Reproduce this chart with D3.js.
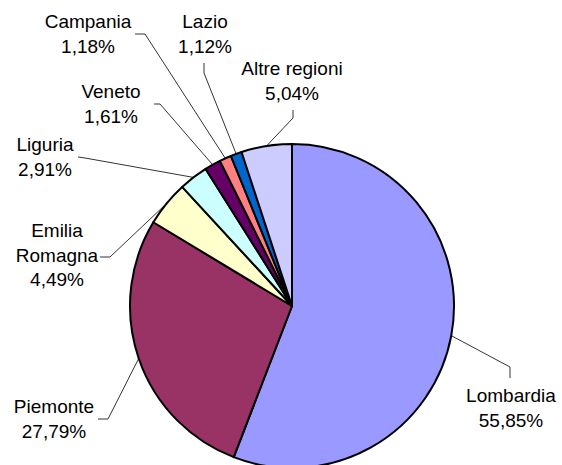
<!DOCTYPE html>
<html>
<head>
<meta charset="utf-8">
<script src="https://cdn.jsdelivr.net/npm/d3@7"></script>
<style>
  body { margin: 0; background: #fff; }
  svg { display: block; }
  text { font-family: "Liberation Sans", Arial, sans-serif; font-size: 19px; fill: #000; }
</style>
</head>
<body>
<svg id="chart"></svg>
<script>
// data
var regions = ['Lombardia', 'Piemonte', 'Emilia Romagna', 'Liguria', 'Veneto', 'Campania', 'Lazio', 'Altre regioni'];
var shares = [55.85, 27.79, 4.49, 2.91, 1.61, 1.18, 1.12, 5.04];
var colors = ['#9999ff', '#993366', '#ffffcc', '#ccffff', '#660066', '#ff8080', '#0066cc', '#ccccff'];

// label placement: lines of the name, centre x, first baseline, elbow of the leader, where the leader meets the text
var labelLayout = [
  { lines: ['Lombardia'], x: 511, y: 402, elbow: [510, 367], end: [510, 378] },
  { lines: ['Piemonte'], x: 54, y: 413, elbow: [108, 419], end: [98, 419] },
  { lines: ['Emilia', 'Romagna'], x: 57, y: 237, elbow: [110, 257], end: [100, 257] },
  { lines: ['Liguria'], x: 45, y: 151, elbow: [85, 158], end: [78, 157] },
  { lines: ['Veneto'], x: 111, y: 98, elbow: [160, 104], end: [154, 104] },
  { lines: ['Campania'], x: 88, y: 28, elbow: [145, 34], end: [135, 34] },
  { lines: ['Lazio'], x: 205, y: 28, elbow: [204, 73], end: [204, 63] },
  { lines: ['Altre regioni'], x: 292, y: 75, elbow: [293, 118], end: [293, 110] }
];

var width = 562, height = 465;
var cx = 292, cy = 306, radius = 162;
var lineGap = 24.5;

var svg = d3.select('#chart')
    .attr('width', width)
    .attr('height', height);

var pie = d3.pie().sort(null).value(function (d) { return d; });
var arc = d3.arc().innerRadius(0).outerRadius(radius);
var arcs = pie(shares);

function fmt(v) {
  return d3.format('.2f')(v).replace('.', ',') + '%';
}

// leader lines
svg.append('g')
    .selectAll('polyline')
    .data(arcs)
    .enter()
    .append('polyline')
    .attr('fill', 'none')
    .attr('stroke', '#000')
    .attr('stroke-width', 0.8)
    .attr('points', function (d, i) {
      var mid = (d.startAngle + d.endAngle) / 2;
      var p0 = [cx + radius * Math.sin(mid), cy - radius * Math.cos(mid)];
      var L = labelLayout[i];
      return [p0, L.elbow, L.end].map(function (p) { return p.join(','); }).join(' ');
    });

// slices
svg.append('g')
    .attr('transform', 'translate(' + cx + ',' + cy + ')')
    .selectAll('path')
    .data(arcs)
    .enter()
    .append('path')
    .attr('d', arc)
    .attr('fill', function (d, i) { return colors[i]; })
    .attr('stroke', '#000')
    .attr('stroke-width', 2)
    .attr('stroke-linejoin', 'round');

// labels
var labels = svg.append('g')
    .selectAll('text')
    .data(arcs)
    .enter()
    .append('text')
    .attr('text-anchor', 'middle');

labels.each(function (d, i) {
  var L = labelLayout[i];
  var rows = L.lines.concat([fmt(shares[i])]);
  d3.select(this)
      .selectAll('tspan')
      .data(rows)
      .enter()
      .append('tspan')
      .attr('x', L.x)
      .attr('y', function (r, j) { return L.y + j * lineGap; })
      .text(function (r) { return r; });
});
</script>
</body>
</html>
